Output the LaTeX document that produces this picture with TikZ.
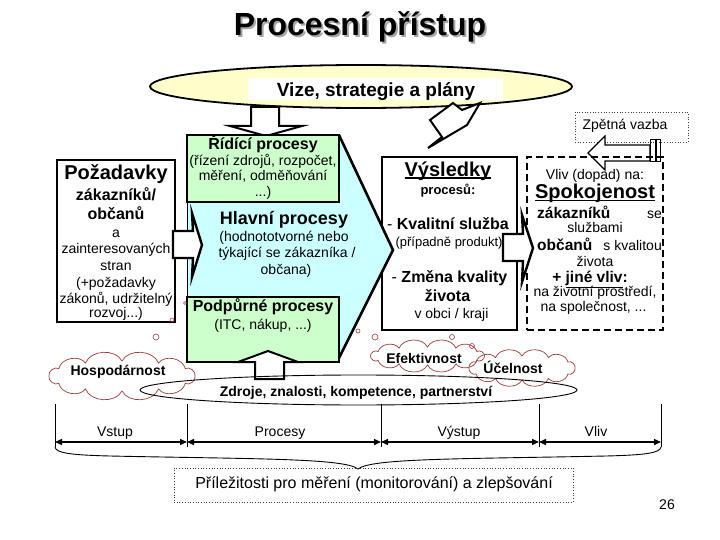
\documentclass[tikz,border=0pt]{standalone}
\usepackage{fontspec}
\setmainfont{Liberation Sans}
\usetikzlibrary{shapes.geometric,arrows.meta,calc}
\newcommand\fsz[1]{\fontsize{#1}{#1}\selectfont}
\newsavebox\thulbox
\newcommand\thul[1]{\sbox\thulbox{#1}\rlap{\rule[-2.4pt]{\wd\thulbox}{1.4pt}}\usebox\thulbox}
\definecolor{yel}{HTML}{FFFFCC}
\definecolor{grn}{HTML}{CCFFCC}
\definecolor{blu}{HTML}{CCFFFF}
\definecolor{cloudred}{HTML}{A33B3B}
\newcommand\mycloud[5]{%
  \draw[cloudline] ({#1+#3},#2) \foreach \i in {1,...,#5} { to[bend left=65] ({#1+#3*cos(\i*360/#5)},{#2+#4*sin(\i*360/#5)}) } -- cycle;
}
\begin{document}
\begin{tikzpicture}[x=1pt,y=-1pt,
  t/.style={inner sep=0pt, anchor=base},
  thickbox/.style={draw=black, line width=2.6pt, inner sep=0pt},
  blockarrow/.style={draw=black, line width=2pt, fill=white, line join=miter},
  cloudline/.style={draw=cloudred, line width=0.7pt},
  bubble/.style={draw=cloudred, line width=0.6pt, circle, inner sep=0pt},
  dimarrow/.style={line width=1.4pt, {Triangle[length=7pt,width=6pt]}-{Triangle[length=7pt,width=6pt]}},
  dotbox/.style={draw=black!75, dotted, line width=0.7pt, inner sep=0pt}
]
\fill[white] (0,0) rectangle (720,540);
\useasboundingbox (0,0) rectangle (720,540);

% title
\node[t, font=\fsz{32}\bfseries, text=black!35] (titleshadow) at (362,38) {Procesní přístup};
\node[t, font=\fsz{32}\bfseries] (title) at (360,36) {Procesní přístup};

% vision ellipse
\node[draw, ellipse, fill=yel, line width=1.8pt, minimum width=422pt, minimum height=43pt, inner sep=0pt] (vize) at (361,86.5) {};
\node[fill=white, minimum width=255pt, minimum height=22pt, inner sep=0pt] (vizebg) at (375.5,89) {};
\node[t, font=\fsz{19}\bfseries] (vizet) at (376,96.5) {Vize, strategie a plány};

% down arrow from vision
\draw[blockarrow] (251,107) -- (279,107) -- (279,126) -- (302,126) -- (266,136) -- (230,126) -- (251,126) -- cycle;
% slanted arrow from vision to results
\draw[blockarrow] (453,103) -- (430,120) -- (442,137) -- (428,148) -- (467,125) -- (480,103) -- (462,110) -- cycle;

% feedback
\node[dotbox, minimum width=113pt, minimum height=30pt] (zpbox) at (631.5,127) {};
\node[t, font=\fsz{14}] (zpt) at (625,130) {Zpětná vazba};
\draw[draw=black, line width=1.2pt, fill=white, line join=miter] (588,153) -- (605,136) -- (605,145) -- (650,145) -- (650,161) -- (605,161) -- (605,170) -- cycle;
\draw[line width=1pt] (650,140) rectangle (655,162);
\draw[line width=1pt] (656,140) rectangle (660,162);

% results box
\node[thickbox, fill=white, minimum width=135pt, minimum height=173pt] (vysl) at (449.5,243.5) {};

% main process shape
\fill[blu] (187,135) -- (339,135) -- (393,250) -- (337,362) -- (187,362) -- cycle;
\draw[line width=2.6pt, line join=miter] (339,135) -- (393,250) -- (337,362);
\draw[line width=0.8pt] (187,200) -- (187,297);

% green boxes
\node[thickbox, fill=grn, minimum width=152pt, minimum height=67pt] (ridici) at (263,168.5) {};
\node[thickbox, fill=grn, minimum width=152pt, minimum height=65pt] (podpur) at (263,329.5) {};

% requirements box
\node[thickbox, fill=white, minimum width=118pt, minimum height=162pt] (pozad) at (116,241) {};

% arrows into process and to impact
\draw[blockarrow, line width=2.4pt] (173,231) -- (193,231) -- (192,213) -- (202,245) -- (192,277) -- (193,258) -- (173,258) -- cycle;
\node[draw, line width=2.6pt, dash pattern=on 7pt off 4pt, minimum width=136pt, minimum height=173pt, inner sep=0pt] (vliv) at (595,243.5) {};
\draw[blockarrow, line width=2.4pt] (503,234) -- (523,234) -- (522,215) -- (533,248) -- (522,282) -- (523,261) -- (503,261) -- cycle;

% texts: requirements
\node[t, font=\fsz{20}\bfseries] (poz1) at (116,180) {Požadavky};
\node[t, font=\fsz{16}\bfseries] (poz2) at (116,201) {zákazníků/};
\node[t, font=\fsz{16}\bfseries] (poz3) at (116,219.5) {občanů};
\node[t, font=\fsz{14}] (poz4) at (116,237) {a};
\node[t, font=\fsz{14}] (poz5) at (116,254) {zainteresovaných};
\node[t, font=\fsz{14}] (poz6) at (116,270) {stran};
\node[t, font=\fsz{14}] (poz7) at (116,287) {(+požadavky};
\node[t, font=\fsz{14}] (poz8) at (116,303) {zákonů, udržitelný};
\node[t, font=\fsz{14}] (poz9) at (116,317) {rozvoj...)};

% texts: process boxes
\node[t, font=\fsz{16}\bfseries] (rid1) at (263,150) {Řídící procesy};
\node[t, font=\fsz{14}] (rid2) at (263,166) {(řízení zdrojů, rozpočet,};
\node[t, font=\fsz{14}] (rid3) at (263,180.5) {měření, odměňování};
\node[t, font=\fsz{14}] (rid4) at (263,196.5) {...)};
\node[t, font=\fsz{18}\bfseries] (hl1) at (284,224.5) {Hlavní procesy};
\node[t, font=\fsz{14}] (hl2) at (284,241.5) {(hodnototvorné nebo};
\node[t, font=\fsz{14}] (hl3) at (287,257.5) {týkající se zákazníka /};
\node[t, font=\fsz{14}] (hl4) at (286,274) {občana)};
\node[t, font=\fsz{16}\bfseries] (pod1) at (263,311.5) {Podpůrné procesy};
\node[t, font=\fsz{14}] (pod2) at (263,329) {(ITC, nákup, ...)};

% texts: results
\node[t, font=\fsz{20}\bfseries] (vy1) at (448,176.5) {\thul{Výsledky}};
\node[t, font=\fsz{13}\bfseries] (vy2) at (448,195) {procesů:};
\node[t, font=\fsz{16}] (vy3) at (448,229.5) {- \textbf{Kvalitní služba}};
\node[t, font=\fsz{13}] (vy4) at (449,246.5) {(případně produkt)};
\node[t, font=\fsz{16}] (vy5) at (449.5,282.5) {- \textbf{Změna kvality}};
\node[t, font=\fsz{16}\bfseries] (vy6) at (447.5,301.5) {života};
\node[t, font=\fsz{14}] (vy7) at (451.5,318) {v obci / kraji};

% texts: impact
\node[t, font=\fsz{14}] (vl1) at (595,180) {Vliv (dopad) na:};
\node[t, font=\fsz{20}\bfseries] (vl2) at (595,199) {\thul{Spokojenost}};
\node[t, anchor=base west, font=\fsz{15.5}\bfseries] (vl3) at (537,218.5) {zákazníků};
\node[t, anchor=base east, font=\fsz{14}] (vl3b) at (662,218.5) {se};
\node[t, font=\fsz{14}] (vl4) at (595,232.5) {službami};
\node[t, anchor=base west, font=\fsz{15.5}\bfseries] (vl5) at (537,250) {občanů};
\node[t, anchor=base east, font=\fsz{14}] (vl5b) at (662,250) {s kvalitou};
\node[t, font=\fsz{14}] (vl6) at (595,266) {života};
\node[t, font=\fsz{15.5}\bfseries] (vl7) at (590,282.5) {+ \underline{jiné vliv}:};
\node[t, font=\fsz{14}] (vl8) at (595,296.5) {na životní prostředí,};
\node[t, font=\fsz{14}] (vl9) at (593.5,311.5) {na společnost, ...};

% clouds
\mycloud{122}{376}{73}{15}{12}
\mycloud{427.5}{356}{57}{9}{12}
\mycloud{522}{368}{53}{12}{12}
\node[t, font=\fsz{14}\bfseries] (hosp) at (118,375) {Hospodárnost};
\node[t, font=\fsz{14}\bfseries] (efek) at (424,363) {Efektivnost};
\node[t, font=\fsz{14}\bfseries] (ucel) at (513,373) {Účelnost};
\node[bubble, minimum size=6pt] (b1) at (156,337) {};
\node[bubble, minimum size=4pt] (b2) at (172,320) {};
\node[bubble, minimum size=3pt] (b3) at (185,303) {};
\node[bubble, minimum size=6pt] (b4) at (375,337) {};
\node[bubble, minimum size=5pt] (b5) at (452,337) {};
\node[bubble, minimum size=5pt] (b6) at (472,346) {};
\node[bubble, minimum size=4pt] (b7) at (358,331) {};

% resources
\draw[blockarrow] (255,379) -- (255,362) -- (238,362) -- (268,351) -- (298,362) -- (284,362) -- (284,379) -- cycle;
\node[draw, ellipse, line width=0.9pt, minimum width=437pt, minimum height=30pt, inner sep=0pt] (zdroje) at (358.5,390) {};
\node[t, font=\fsz{14}\bfseries] (zdt) at (356,396.5) {Zdroje, znalosti, kompetence, partnerství};

% phases
\foreach \n/\x in {1/55,2/187,3/381,4/539,5/661}{
  \coordinate (vt\n) at (\x,404);
  \coordinate (vb\n) at (\x,447);
  \coordinate (d\n) at (\x,442);
  \draw[line width=0.8pt] (vt\n) -- (vb\n);
}
\draw[dimarrow] (d1) -- (d2);
\draw[dimarrow] (d2) -- (d3);
\draw[dimarrow] (d3) -- (d4);
\draw[dimarrow] (d4) -- (d5);
\node[t, font=\fsz{14}] (lvstup) at (115,436.5) {Vstup};
\node[t, font=\fsz{14}] (lproc) at (280,436.5) {Procesy};
\node[t, font=\fsz{14}] (lvyst) at (459,436.5) {Výstup};
\node[t, font=\fsz{14}] (lvliv) at (596,436.5) {Vliv};

% brace
\draw[line width=0.9pt] (vb1) .. controls (56,453) and (70,455) .. (110,456) .. controls (250,459) and (345,458) .. (358,469) .. controls (371,458) and (466,459) .. (606,456) .. controls (646,455) and (660,453) .. (vb5);

% opportunities
\node[dotbox, minimum width=399pt, minimum height=34pt] (prilez) at (373.5,485) {};
\node[t, font=\fsz{16}] (prt) at (374,488) {Příležitosti pro měření (monitorování) a zlepšování};
\node[t, font=\fsz{14}] (page) at (667,509) {26};
\end{tikzpicture}
\end{document}
